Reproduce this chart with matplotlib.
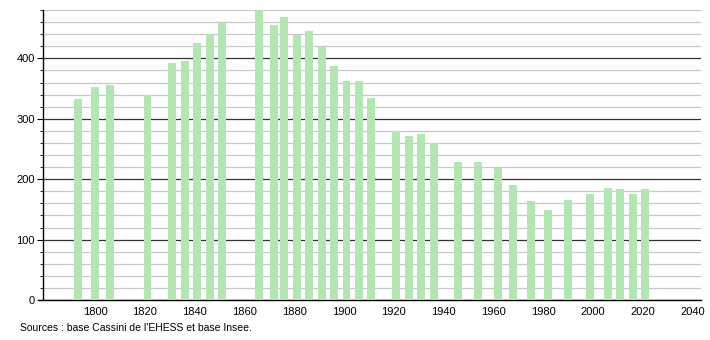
import matplotlib
matplotlib.use("Agg")
import matplotlib.pyplot as plt
from matplotlib.ticker import MultipleLocator

years = [1793, 1800, 1806, 1821, 1831, 1836, 1841, 1846, 1851, 1866,
         1872, 1876, 1881, 1886, 1891, 1896, 1901, 1906, 1911, 1921,
         1926, 1931, 1936, 1946, 1954, 1962, 1968, 1975, 1982, 1990,
         1999, 2006, 2011, 2016, 2021]
population = [332, 353, 356, 340, 393, 395, 426, 440, 459, 480,
              456, 468, 439, 445, 419, 388, 363, 363, 335, 280,
              271, 274, 260, 228, 228, 219, 191, 164, 149, 166,
              175, 186, 184, 176, 184]
source_text = "Sources : base Cassini de l'EHESS et base Insee."

plt.rcParams["font.family"] = ["Liberation Sans", "DejaVu Sans"]

fig = plt.figure(figsize=(7.10, 3.40), dpi=100)
ax = fig.add_axes([43 / 710, 40 / 340, 658 / 710, 290 / 340])

ax.bar(years, population, width=3.2, color="#b3e6b3", zorder=3)

ax.set_xlim(1779, 2043.5)
ax.set_ylim(0, 480)
ax.set_xticks(range(1800, 2041, 20))
ax.yaxis.set_major_locator(MultipleLocator(100))
ax.yaxis.set_minor_locator(MultipleLocator(20))

# dark lines every 100, light ones every 20
ax.grid(axis="y", which="major", color="#333333", linewidth=0.9, zorder=1)
ax.grid(axis="y", which="minor", color="#c8c8c8", linewidth=0.9, zorder=1)

for side in ("top", "right"):
    ax.spines[side].set_visible(False)
ax.spines["left"].set_linewidth(1.0)
ax.spines["bottom"].set_linewidth(1.0)
ax.spines["bottom"].set_bounds(1777.5, 2043.5)

ax.tick_params(axis="x", length=0, labelsize=8, pad=5)
ax.tick_params(axis="y", which="major", length=4, labelsize=8, pad=2)
ax.tick_params(axis="y", which="minor", length=2)

fig.text(20 / 710, 1 - 328 / 340, source_text, fontsize=7.5, va="center", ha="left")

fig.savefig("out.png", dpi=100)
